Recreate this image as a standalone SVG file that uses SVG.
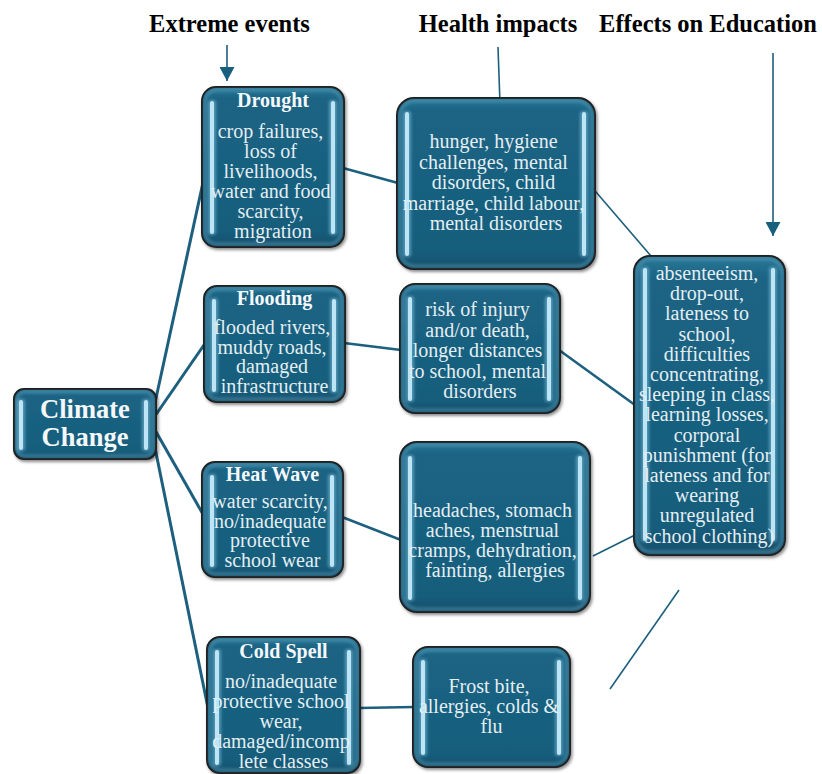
<svg xmlns="http://www.w3.org/2000/svg" width="822" height="774" viewBox="0 0 822 774">
  <defs>
    <linearGradient id="face" x1="0" y1="0" x2="0" y2="1">
      <stop offset="0" stop-color="#2b7898"/>
      <stop offset="0.07" stop-color="#1b6484"/>
      <stop offset="0.9" stop-color="#175d7c"/>
      <stop offset="1" stop-color="#12506c"/>
    </linearGradient>
    <filter id="shadow" x="-10%" y="-10%" width="125%" height="125%">
      <feDropShadow dx="1.5" dy="2" stdDeviation="1.5" flood-color="#000" flood-opacity="0.45"/>
    </filter>
    <filter id="soft" x="-50%" y="-20%" width="200%" height="140%">
      <feGaussianBlur stdDeviation="1.8"/>
    </filter>
    <marker id="head" markerUnits="userSpaceOnUse" markerWidth="15" markerHeight="15" refX="14" refY="7.5" orient="auto">
      <path d="M0,0 L14,7.5 L0,15 z" fill="#19607f"/>
    </marker>
  </defs>
  <style>
    .box { fill: url(#face); stroke: #1c1c1c; stroke-width: 2; filter: url(#shadow); }
    .rim { fill: none; stroke: #6aaac6; stroke-width: 3; opacity: 0.45; filter: url(#soft); }
    .glow { fill: #8fd0ea; opacity: 0.5; filter: url(#soft); }
    .bar { fill: #bde5f5; }
    .ttl { font-family: "Liberation Serif", "Times New Roman", serif; font-weight: bold; font-size: 20px; fill: #f4f8fa; text-anchor: middle; }
    .txt { font-family: "Liberation Serif", "Times New Roman", serif; font-size: 20px; fill: #e4eef2; text-anchor: middle; }
    .big { font-family: "Liberation Serif", "Times New Roman", serif; font-weight: bold; font-size: 26.5px; fill: #f4f8fa; text-anchor: middle; }
    .head { font-family: "Liberation Serif", "Times New Roman", serif; font-weight: bold; font-size: 24.5px; fill: #000; text-anchor: middle; }
    .link { stroke: #1d5f7e; fill: none; }
    .thick { stroke-width: 3; }
    .mid { stroke-width: 2.5; }
    .thin { stroke-width: 1.6; }
  </style>

  <!-- column headings -->
  <g id="headings">
    <text class="head" x="229.5" y="32">Extreme events</text>
    <text class="head" x="498" y="32">Health impacts</text>
    <text class="head" x="708" y="32">Effects on Education</text>
  </g>

  <!-- connectors -->
  <g id="connectors">
    <line class="link thin" x1="227" y1="45" x2="227" y2="81" marker-end="url(#head)"/>
    <line class="link thin" x1="773" y1="53" x2="773" y2="236" marker-end="url(#head)"/>
    <line class="link thin" x1="498" y1="47" x2="500" y2="104"/>
    <line class="link thick" x1="153" y1="412" x2="204" y2="178"/>
    <line class="link thick" x1="155" y1="416" x2="206" y2="342"/>
    <line class="link thick" x1="155" y1="430" x2="204" y2="516"/>
    <line class="link thick" x1="154" y1="443" x2="208" y2="708"/>
    <line class="link mid" x1="343" y1="168" x2="398" y2="183"/>
    <line class="link mid" x1="344" y1="343" x2="401" y2="350"/>
    <line class="link mid" x1="342" y1="517" x2="401" y2="540"/>
    <line class="link mid" x1="359" y1="708" x2="414" y2="707"/>
    <line class="link thin" x1="590" y1="185" x2="657" y2="263"/>
    <line class="link mid" x1="559" y1="350" x2="635" y2="405"/>
    <line class="link thin" x1="593" y1="556" x2="651" y2="527"/>
    <line class="link thin" x1="610" y1="689" x2="679" y2="590"/>
  </g>

  <!-- root -->
  <g id="climate-change">
    <rect class="box" x="14" y="389" width="142" height="70" rx="10"/>
    <rect class="rim" x="17" y="392" width="136" height="64" rx="8"/>
    <rect class="glow" x="17" y="399" width="8" height="52" rx="3"/>
    <rect class="bar" x="19" y="400" width="4" height="50" rx="2"/>
    <rect class="glow" x="142" y="399" width="8" height="52" rx="3"/>
    <rect class="bar" x="144" y="400" width="4" height="50" rx="2"/>
    <text class="big" x="85" y="418">Climate</text>
    <text class="big" x="85" y="446">Change</text>
  </g>

  <!-- extreme events -->
  <g id="drought">
    <rect class="box" x="202" y="87" width="142" height="160" rx="14"/>
    <rect class="rim" x="205" y="90" width="136" height="154" rx="12"/>
    <rect class="glow" x="208" y="100" width="8" height="135" rx="3"/>
    <rect class="bar" x="210" y="101" width="4" height="133" rx="2"/>
    <rect class="glow" x="329" y="100" width="8" height="135" rx="3"/>
    <rect class="bar" x="331" y="101" width="4" height="133" rx="2"/>
    <text class="ttl" x="273" y="107">Drought</text>
    <text class="txt">
      <tspan x="273" y="138">crop failures,</tspan>
      <tspan x="273" y="158">loss of</tspan>
      <tspan x="273" y="178">livelihoods,</tspan>
      <tspan x="273" y="198">water and food</tspan>
      <tspan x="273" y="218">scarcity,</tspan>
      <tspan x="273" y="238">migration</tspan>
    </text>
  </g>

  <g id="flooding">
    <rect class="box" x="204" y="286" width="141" height="116" rx="13"/>
    <rect class="rim" x="207" y="289" width="135" height="110" rx="11"/>
    <rect class="glow" x="210" y="298" width="8" height="95" rx="3"/>
    <rect class="bar" x="212" y="299" width="4" height="93" rx="2"/>
    <rect class="glow" x="330" y="298" width="8" height="95" rx="3"/>
    <rect class="bar" x="332" y="299" width="4" height="93" rx="2"/>
    <text class="ttl" x="274.5" y="305">Flooding</text>
    <text class="txt">
      <tspan x="274.5" y="334">flooded rivers,</tspan>
      <tspan x="274.5" y="353.5">muddy roads,</tspan>
      <tspan x="274.5" y="373">damaged</tspan>
      <tspan x="274.5" y="392.5">infrastructure</tspan>
    </text>
  </g>

  <g id="heat-wave">
    <rect class="box" x="202" y="462" width="141" height="115" rx="13"/>
    <rect class="rim" x="205" y="465" width="135" height="109" rx="11"/>
    <rect class="glow" x="208" y="474" width="8" height="94" rx="3"/>
    <rect class="bar" x="210" y="475" width="4" height="92" rx="2"/>
    <rect class="glow" x="328" y="474" width="8" height="94" rx="3"/>
    <rect class="bar" x="330" y="475" width="4" height="92" rx="2"/>
    <text class="ttl" x="272.5" y="481">Heat Wave</text>
    <text class="txt">
      <tspan x="272.5" y="508">water scarcity,</tspan>
      <tspan x="272.5" y="527.7">no/inadequate</tspan>
      <tspan x="272.5" y="547.4">protective</tspan>
      <tspan x="272.5" y="567">school wear</tspan>
    </text>
  </g>

  <g id="cold-spell">
    <rect class="box" x="207" y="637" width="153" height="136" rx="13"/>
    <rect class="rim" x="210" y="640" width="147" height="130" rx="11"/>
    <rect class="glow" x="213" y="649" width="8" height="117" rx="3"/>
    <rect class="bar" x="215" y="650" width="4" height="115" rx="2"/>
    <rect class="glow" x="345" y="649" width="8" height="117" rx="3"/>
    <rect class="bar" x="347" y="650" width="4" height="115" rx="2"/>
    <text class="ttl" x="283.5" y="658">Cold Spell</text>
    <text class="txt">
      <tspan x="283.5" y="688">no/inadequate</tspan>
      <tspan x="283.5" y="708">protective school</tspan>
      <tspan x="283.5" y="728">wear,</tspan>
      <tspan x="283.5" y="748">damaged/incomp</tspan>
      <tspan x="283.5" y="768">lete classes</tspan>
    </text>
  </g>

  <!-- health impacts -->
  <g id="health-drought">
    <rect class="box" x="397" y="98" width="198" height="171" rx="17"/>
    <rect class="rim" x="400" y="101" width="192" height="165" rx="15"/>
    <rect class="glow" x="403" y="111" width="8" height="146" rx="3"/>
    <rect class="bar" x="405" y="112" width="4" height="144" rx="2"/>
    <rect class="glow" x="580" y="111" width="8" height="146" rx="3"/>
    <rect class="bar" x="582" y="112" width="4" height="144" rx="2"/>
    <text class="txt">
      <tspan x="496" y="148">hunger, hygiene</tspan>
      <tspan x="496" y="168.5">challenges, mental</tspan>
      <tspan x="496" y="189">disorders, child</tspan>
      <tspan x="496" y="209.5">marriage, child labour,</tspan>
      <tspan x="496" y="230">mental disorders</tspan>
    </text>
  </g>

  <g id="health-flooding">
    <rect class="box" x="400" y="284" width="160" height="129" rx="15"/>
    <rect class="rim" x="403" y="287" width="154" height="123" rx="13"/>
    <rect class="glow" x="406" y="296" width="8" height="106" rx="3"/>
    <rect class="bar" x="408" y="297" width="4" height="104" rx="2"/>
    <rect class="glow" x="545" y="296" width="8" height="106" rx="3"/>
    <rect class="bar" x="547" y="297" width="4" height="104" rx="2"/>
    <text class="txt">
      <tspan x="480" y="316">risk of injury</tspan>
      <tspan x="480" y="336.5">and/or death,</tspan>
      <tspan x="480" y="357">longer distances</tspan>
      <tspan x="480" y="377.5">to school, mental</tspan>
      <tspan x="480" y="398">disorders</tspan>
    </text>
  </g>

  <g id="health-heat">
    <rect class="box" x="400" y="442" width="190" height="170" rx="17"/>
    <rect class="rim" x="403" y="445" width="184" height="164" rx="15"/>
    <rect class="glow" x="406" y="455" width="8" height="146" rx="3"/>
    <rect class="bar" x="408" y="456" width="4" height="144" rx="2"/>
    <rect class="glow" x="576" y="455" width="8" height="146" rx="3"/>
    <rect class="bar" x="578" y="456" width="4" height="144" rx="2"/>
    <text class="txt">
      <tspan x="495" y="517">headaches, stomach</tspan>
      <tspan x="495" y="537">aches, menstrual</tspan>
      <tspan x="495" y="557">cramps, dehydration,</tspan>
      <tspan x="495" y="577">fainting, allergies</tspan>
    </text>
  </g>

  <g id="health-cold">
    <rect class="box" x="413" y="647" width="157" height="120" rx="15"/>
    <rect class="rim" x="416" y="650" width="151" height="114" rx="13"/>
    <rect class="glow" x="419" y="659" width="8" height="97" rx="3"/>
    <rect class="bar" x="421" y="660" width="4" height="95" rx="2"/>
    <rect class="glow" x="555" y="659" width="8" height="97" rx="3"/>
    <rect class="bar" x="557" y="660" width="4" height="95" rx="2"/>
    <text class="txt">
      <tspan x="491.5" y="693">Frost bite,</tspan>
      <tspan x="491.5" y="713">allergies, colds &amp;</tspan>
      <tspan x="491.5" y="733">flu</tspan>
    </text>
  </g>

  <!-- effects on education -->
  <g id="education">
    <rect class="box" x="634" y="256" width="151" height="299" rx="16"/>
    <rect class="rim" x="637" y="259" width="145" height="293" rx="14"/>
    <rect class="glow" x="641" y="267" width="8" height="275" rx="3"/>
    <rect class="bar" x="643" y="268" width="4" height="273" rx="2"/>
    <rect class="glow" x="769" y="267" width="8" height="275" rx="3"/>
    <rect class="bar" x="771" y="268" width="4" height="273" rx="2"/>
    <text class="txt">
      <tspan x="709.5" y="280">absenteeism,</tspan>
      <tspan x="709.5" y="300.2">drop-out,</tspan>
      <tspan x="709.5" y="320.4">lateness to</tspan>
      <tspan x="709.5" y="340.6">school,</tspan>
      <tspan x="709.5" y="360.8">difficulties</tspan>
      <tspan x="709.5" y="381">concentrating,</tspan>
      <tspan x="709.5" y="401.2">sleeping in class,</tspan>
      <tspan x="709.5" y="421.4">learning losses,</tspan>
      <tspan x="709.5" y="441.6">corporal</tspan>
      <tspan x="709.5" y="461.8">punishment (for</tspan>
      <tspan x="709.5" y="482">lateness and for</tspan>
      <tspan x="709.5" y="502.2">wearing</tspan>
      <tspan x="709.5" y="522.4">unregulated</tspan>
      <tspan x="709.5" y="542.6">school clothing)</tspan>
    </text>
  </g>
</svg>
